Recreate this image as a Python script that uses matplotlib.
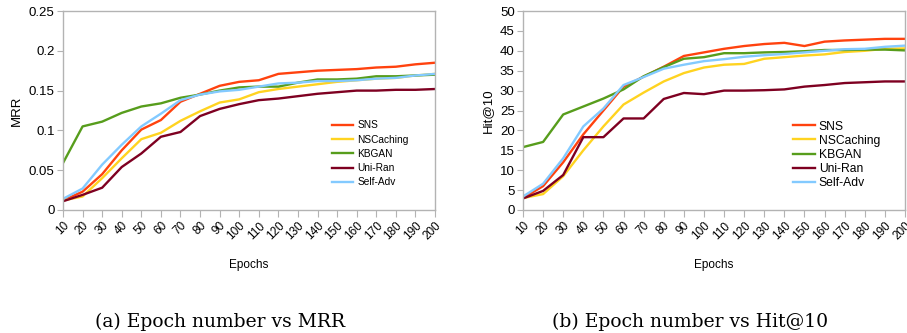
import matplotlib
matplotlib.use("Agg")
import matplotlib.pyplot as plt
import numpy as np

plt.rcParams['font.family'] = ['Liberation Sans', 'DejaVu Sans']

# epochs on the x axis
epochs = [10, 20, 30, 40, 50, 60, 70, 80, 90, 100, 110, 120, 130, 140, 150, 160, 170, 180, 190, 200]

# MRR per method
mrr_sns = [0.012, 0.023, 0.045, 0.075, 0.101, 0.113, 0.136, 0.146, 0.156, 0.161,
           0.163, 0.171, 0.173, 0.175, 0.176, 0.177, 0.179, 0.180, 0.183, 0.185]
mrr_nscaching = [0.012, 0.017, 0.040, 0.065, 0.089, 0.097, 0.112, 0.124, 0.135, 0.139,
                 0.148, 0.152, 0.155, 0.158, 0.161, 0.163, 0.165, 0.166, 0.169, 0.171]
mrr_kbgan = [0.059, 0.105, 0.111, 0.122, 0.130, 0.134, 0.141, 0.145, 0.150, 0.154,
             0.155, 0.155, 0.160, 0.164, 0.164, 0.165, 0.168, 0.168, 0.169, 0.170]
mrr_uniran = [0.011, 0.019, 0.028, 0.054, 0.071, 0.092, 0.098, 0.118, 0.127, 0.133,
              0.138, 0.140, 0.143, 0.146, 0.148, 0.150, 0.150, 0.151, 0.151, 0.152]
mrr_selfadv = [0.014, 0.027, 0.057, 0.082, 0.105, 0.121, 0.138, 0.145, 0.149, 0.151,
               0.155, 0.159, 0.160, 0.162, 0.162, 0.163, 0.165, 0.166, 0.169, 0.171]

# Hit@10 per method
hit_sns = [3.0, 6.0, 12.0, 19.0, 25.0, 31.0, 33.5, 36.0, 38.7, 39.6,
           40.5, 41.2, 41.7, 42.0, 41.2, 42.3, 42.6, 42.8, 43.0, 43.0]
hit_nscaching = [3.0, 4.0, 8.5, 15.0, 21.0, 26.5, 29.5, 32.3, 34.4, 35.8,
                 36.5, 36.7, 38.0, 38.4, 38.8, 39.1, 39.7, 40.0, 40.5, 40.6]
hit_kbgan = [15.8, 17.1, 24.0, 26.0, 28.0, 30.3, 33.6, 35.9, 38.0, 38.4,
             39.4, 39.4, 39.6, 39.7, 39.9, 40.2, 40.2, 40.3, 40.3, 40.1]
hit_uniran = [2.9, 4.8, 8.8, 18.3, 18.3, 23.0, 23.0, 27.9, 29.4, 29.1,
              30.0, 30.0, 30.1, 30.3, 31.0, 31.4, 31.9, 32.1, 32.3, 32.3]
hit_selfadv = [3.4, 6.6, 13.0, 21.0, 25.5, 31.4, 33.4, 35.5, 36.5, 37.4,
               37.9, 38.5, 38.9, 39.2, 39.6, 40.0, 40.4, 40.5, 41.0, 41.3]

methods = ['SNS', 'NSCaching', 'KBGAN', 'Uni-Ran', 'Self-Adv']
colors = ['#ff420e', '#ffd320', '#579d1c', '#7e0021', '#83caff']

mrr_series = [mrr_sns, mrr_nscaching, mrr_kbgan, mrr_uniran, mrr_selfadv]
hit_series = [hit_sns, hit_nscaching, hit_kbgan, hit_uniran, hit_selfadv]

fig = plt.figure(figsize=(9.07, 3.33), dpi=100)
ax1 = fig.add_axes([63/907, 1 - 210/333, 372/907, 199/333])
ax2 = fig.add_axes([523/907, 1 - 210/333, 382/907, 199/333])

x = np.arange(len(epochs))


def style_axis(ax, series, ylim, yticks, ylabel):
    for s, name, c in zip(series, methods, colors):
        ax.plot(x, s, color=c, lw=1.7, label=name)
    ax.set_xlim(0, len(epochs) - 1)
    ax.set_ylim(*ylim)
    ax.set_yticks(yticks)
    ax.set_xticks(x)
    ax.set_xticklabels([str(e) for e in epochs], rotation=45, ha='right',
                       rotation_mode='anchor', fontsize=8.5)
    ax.tick_params(axis='y', labelsize=9.5, length=4, color='#b3b3b3', pad=2)
    ax.tick_params(axis='x', length=5, color='#b3b3b3', pad=2)
    for sp in ax.spines.values():
        sp.set_color('#b3b3b3')
        sp.set_linewidth(1)
    ax.set_ylabel(ylabel, fontsize=9.5)
    ax.set_xlabel('Epochs', fontsize=8.5, labelpad=12)


style_axis(ax1, mrr_series, (0, 0.25), [0, 0.05, 0.1, 0.15, 0.2, 0.25], 'MRR')
ax1.set_yticklabels(['0', '0.05', '0.1', '0.15', '0.2', '0.25'])
ax1.legend(loc='center left', bbox_to_anchor=(0.712, 0.282), frameon=False,
           fontsize=7.3, handlelength=2.1, labelspacing=0.42, handletextpad=0.4,
           borderaxespad=0)

style_axis(ax2, hit_series, (0, 50), list(range(0, 51, 5)), 'Hit@10')
ax2.legend(loc='center left', bbox_to_anchor=(0.694, 0.277), frameon=False,
           fontsize=8.7, handlelength=1.8, labelspacing=0.18, handletextpad=0.33,
           borderaxespad=0)

fig.text(220/907, 1 - 322/333, '(a) Epoch number vs MRR', ha='center', va='center',
         fontsize=13.5, family='DejaVu Serif')
fig.text(690/907, 1 - 322/333, '(b) Epoch number vs Hit@10', ha='center', va='center',
         fontsize=13.5, family='DejaVu Serif')

fig.savefig('out.png', dpi=100)
